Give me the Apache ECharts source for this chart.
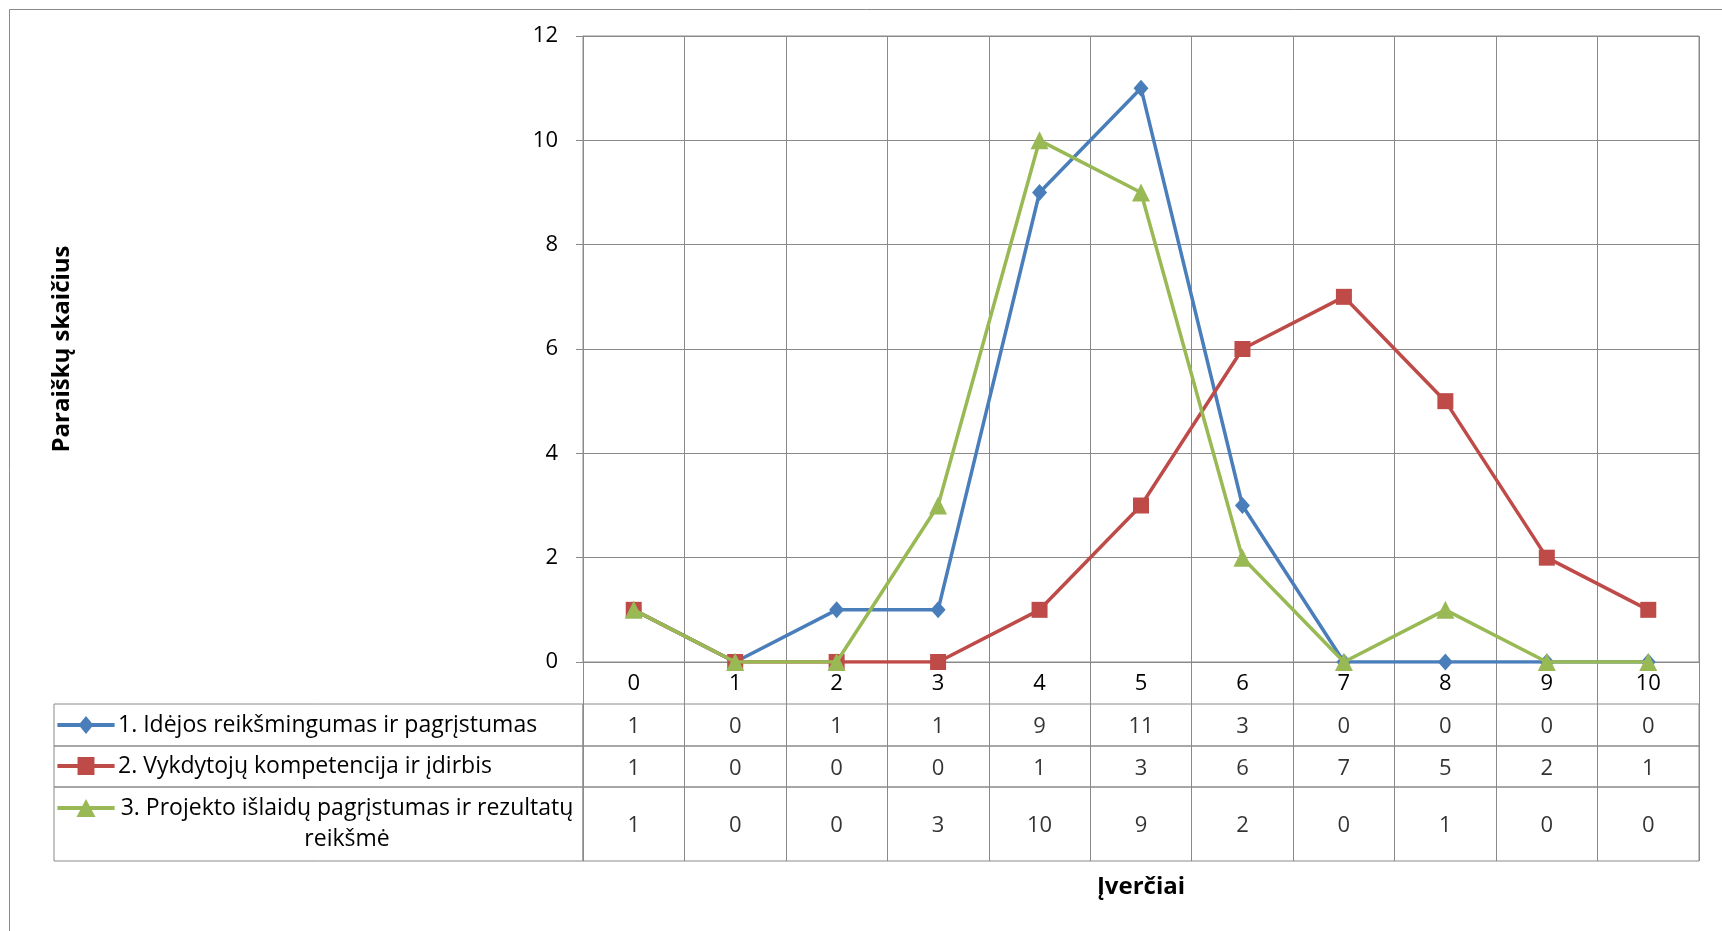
<!DOCTYPE html>
<html>
<head>
<meta charset="utf-8">
<script src="https://cdn.jsdelivr.net/npm/echarts@6/dist/echarts.min.js"></script>
<style>html,body{margin:0;padding:0;background:#fff}#c{width:1722px;height:931px}</style>
</head>
<body>
<div id="c"></div>
<script>
const categories = ['0','1','2','3','4','5','6','7','8','9','10'];
const seriesNames = [
  '1. Idėjos reikšmingumas ir pagrįstumas',
  '2. Vykdytojų kompetencija ir įdirbis',
  '3. Projekto išlaidų pagrįstumas ir rezultatų reikšmė'
];
const rowLabels = [
  '1. Idėjos reikšmingumas ir pagrįstumas',
  '2. Vykdytojų kompetencija ir įdirbis',
  '3. Projekto išlaidų pagrįstumas ir rezultatų\nreikšmė'
];
const ideja = [1,0,1,1,9,11,3,0,0,0,0];
const vykdytojai = [1,0,0,0,1,3,6,7,5,2,1];
const islaidos = [1,0,0,3,10,9,2,0,1,0,0];
const yMin = 0, yMax = 12, yStep = 2;
const xTitle = 'Įverčiai';
const yTitle = 'Paraiškų skaičius';

const values = [ideja, vykdytojai, islaidos];
const colors = ['#4A7EBB', '#BE4B48', '#98B954'];
const symbols = ['diamond', 'rect', 'triangle'];
const symbolSizes = [[15,17], 16, 18];
// legend icons: thick line with the series marker (shape only, in icon units)
const legendIcons = [
  'path://M2 7H56V11H2ZM29 0.5L36 9L29 17.5L22 9Z',
  'path://M2 7H56V11H2ZM21 0.5H37V17.5H21Z',
  'path://M2 7H56V11H2ZM29 0.5L38 17.5L20 17.5Z'
];

const FONT = '"Open Sans", sans-serif';
const GRID_C = '#8a8a8a';

const plot = {left:583, top:36, width:1116, height:626};
const rows = [{top:704, height:42}, {top:746, height:41}, {top:787, height:74}];
const legendCenters = [725, 766, 808];
const labelLeft = 54;

const grids = [Object.assign({show:true, borderColor:GRID_C, borderWidth:1}, plot)];
rows.forEach(r => grids.push({left:plot.left, width:plot.width, top:r.top, height:r.height, show:true, borderColor:GRID_C, borderWidth:1}));
rows.forEach(r => grids.push({left:labelLeft, width:plot.left-labelLeft, top:r.top, height:r.height, show:true, borderColor:GRID_C, borderWidth:1}));

const xAxes = [{
  gridIndex:0, type:'category', data:categories, boundaryGap:true,
  axisLine:{show:true, lineStyle:{color:GRID_C, width:1}},
  axisTick:{show:true, interval:0, length:42, lineStyle:{color:GRID_C}},
  axisLabel:{interval:0, margin:11, fontSize:22, color:'#000', fontFamily:FONT},
  splitLine:{show:true, interval:0, lineStyle:{color:GRID_C, width:1}},
  name:xTitle, nameLocation:'middle', nameGap:213,
  nameTextStyle:{fontSize:24, fontWeight:'bold', color:'#000', fontFamily:FONT}
}];
const yAxes = [{
  gridIndex:0, type:'value', min:yMin, max:yMax, interval:yStep,
  axisLine:{show:true, lineStyle:{color:GRID_C, width:1}},
  axisTick:{show:true, length:7, lineStyle:{color:GRID_C}},
  axisLabel:{margin:25, fontSize:22, color:'#000', fontFamily:FONT, padding:[5,0,0,0]},
  splitLine:{show:true, lineStyle:{color:GRID_C, width:1}},
  name:yTitle, nameLocation:'middle', nameGap:509, nameRotate:90,
  nameTextStyle:{fontSize:24, fontWeight:'bold', color:'#000', fontFamily:FONT}
}];
rows.forEach((r, i) => {
  xAxes.push({gridIndex:i+1, type:'category', data:categories, boundaryGap:true,
    axisLine:{show:false}, axisTick:{show:false}, axisLabel:{show:false},
    splitLine:{show:true, interval:0, lineStyle:{color:GRID_C, width:1}}});
  const centered = rowLabels[i].indexOf('\n') >= 0;
  yAxes.push({gridIndex:i+1, type:'category', data:[rowLabels[i]],
    axisLine:{show:false}, axisTick:{show:false}, splitLine:{show:false},
    axisLabel:{fontSize:23, color:'#000', fontFamily:FONT, lineHeight:31,
      align: centered ? 'center' : 'left',
      margin: centered ? 236 : 465}});
});
rows.forEach((r, i) => {
  xAxes.push({gridIndex:i+4, type:'value', show:false});
  yAxes.push({gridIndex:i+4, type:'value', show:false});
});

const series = [];
values.forEach((v, i) => {
  series.push({
    name:seriesNames[i], type:'line', xAxisIndex:0, yAxisIndex:0,
    data:v, symbol:symbols[i], symbolSize:symbolSizes[i], showAllSymbol:true,
    lineStyle:{color:colors[i], width:3.5},
    itemStyle:{color:colors[i]}, z:2+i
  });
});
values.forEach((v, i) => {
  series.push({
    name:'cells'+i, type:'scatter', xAxisIndex:i+1, yAxisIndex:i+1,
    data:v.map((val, k) => [categories[k], rowLabels[i], val]),
    symbolSize:1, itemStyle:{color:'transparent'},
    label:{show:true, position:'inside', offset:[0,2], formatter:p => String(p.value[2]),
      fontSize:22, color:'#000', fontFamily:FONT}
  });
});

const legends = rows.map((r, i) => ({
  data:[{name:seriesNames[i], icon:legendIcons[i]}], left:57, top:legendCenters[i] - 9,
  itemWidth:58, itemHeight:18, padding:0, selectedMode:false,
  itemStyle:{color:colors[i], borderWidth:0},
  formatter:() => '', textStyle:{fontSize:1}
}));

const chart = echarts.init(document.getElementById('c'), null, {renderer:'canvas'});
chart.setOption({
  animation:false,
  backgroundColor:'#fff',
  textStyle:{fontFamily:FONT},
  graphic:[{type:'rect', shape:{x:9.5, y:9.5, width:2000, height:2000},
    style:{fill:null, stroke:'#8a8a8a', lineWidth:1}, silent:true, z:-1}],
  legend:legends,
  grid:grids,
  xAxis:xAxes,
  yAxis:yAxes,
  series:series
});
</script>
</body>
</html>
